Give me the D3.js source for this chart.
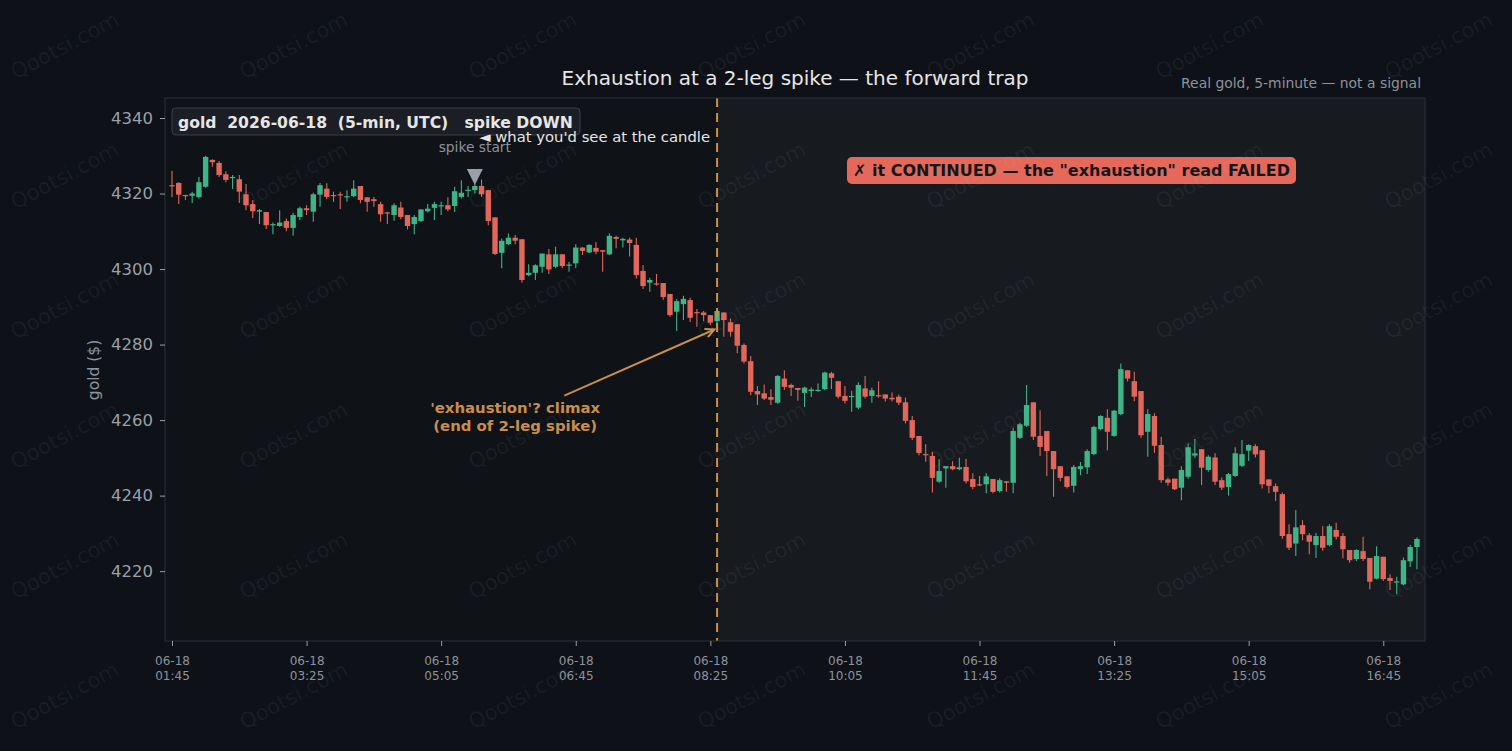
<!DOCTYPE html>
<html><head><meta charset="utf-8">
<script src="https://cdn.jsdelivr.net/npm/d3@7/dist/d3.min.js"></script>
<style>
html,body{margin:0;padding:0;background:#0e1117;}
svg{display:block;}
text{font-family:"DejaVu Sans",sans-serif;}
</style></head><body>
<svg id="c" width="1512" height="751"></svg>
<script>
// ---- data (gold, 5-min candles from 06-18 01:45 UTC) ----
const opens=[4322.2,4322.8,4319.6,4319.4,4319.05,4321.8,4328.9,4328.1,4325.1,4324.2,
4323.8,4319.8,4317.2,4315.2,4315.1,4311.8,4311.4,4312.7,4310.9,4313.8,
4316.1,4315.2,4319.7,4321.3,4319.6,4319.8,4319.0,4319.3,4322.0,4319.0,
4318.5,4317.2,4315.0,4314.3,4316.3,4314.3,4311.9,4312.7,4315.3,4316.2,
4316.8,4316.9,4316.7,4319.1,4320.8,4320.9,4322.0,4320.9,4313.7,4304.3,
4306.6,4308.3,4307.9,4298.4,4299.0,4300.6,4303.9,4300.6,4303.9,4301.0,
4301.5,4305.7,4304.4,4305.6,4305.0,4303.9,4308.5,4307.6,4307.8,4306.4,
4299.5,4296.4,4296.2,4296.3,4293.4,4288.7,4290.7,4291.8,4288.6,4288.5,
4287.8,4286.2,4288.5,4285.9,4285.4,4279.9,4275.6,4267.7,4267.1,4266.1,
4264.6,4271.0,4269.3,4268.5,4267.2,4267.7,4267.9,4268.2,4272.4,4270.3,
4266.4,4266.3,4263.3,4268.4,4266.4,4266.6,4266.8,4265.9,4266.2,4264.7,
4260.0,4255.8,4251.0,4250.5,4243.7,4247.2,4247.8,4247.0,4247.6,4244.4,
4243.0,4243.0,4244.4,4241.2,4243.8,4243.4,4255.3,4258.5,4264.7,4255.8,
4257.1,4251.8,4247.8,4245.1,4242.6,4247.0,4247.5,4251.0,4257.6,4260.6,
4255.8,4261.6,4273.2,4270.3,4267.7,4256.9,4261.1,4253.4,4244.3,4244.5,
4242.1,4245.0,4250.6,4252.3,4246.8,4250.1,4244.1,4242.3,4245.2,4247.9,
4251.9,4253.1,4252.0,4244.3,4242.5,4240.4,4229.8,4227.3,4232.2,4229.5,
4226.9,4229.3,4226.9,4230.9,4229.3,4225.6,4223.2,4225.3,4223.5,4218.0,
4223.8,4218.2,4217.1,4216.5,4222.6,4226.4];
const highs=[4326.0,4323.0,4319.7,4320.5,4324.4,4330.0,4329.1,4328.6,4325.9,4324.9,
4324.9,4322.5,4318.3,4315.9,4315.1,4312.3,4315.6,4313.4,4314.9,4316.5,
4316.9,4320.2,4322.8,4322.7,4320.5,4320.5,4320.9,4323.5,4322.0,4319.0,
4319.1,4317.8,4315.2,4317.4,4317.8,4314.3,4314.3,4315.8,4317.2,4317.8,
4317.8,4319.0,4321.8,4323.5,4322.0,4322.7,4323.7,4320.9,4313.7,4308.1,
4309.4,4309.0,4307.9,4301.3,4301.3,4304.1,4305.3,4305.9,4303.9,4301.9,
4306.6,4305.8,4306.6,4307.1,4305.0,4309.5,4308.8,4308.3,4308.3,4308.3,
4301.1,4297.7,4298.7,4296.3,4293.4,4292.1,4292.9,4292.4,4289.4,4288.9,
4287.8,4289.0,4288.5,4286.9,4285.4,4280.3,4277.0,4269.0,4269.4,4268.2,
4271.9,4273.2,4269.7,4268.5,4268.8,4268.7,4269.7,4272.8,4272.8,4270.3,
4269.0,4267.8,4270.0,4271.7,4268.6,4270.3,4266.8,4267.3,4266.8,4266.0,
4261.1,4255.8,4253.6,4251.6,4249.6,4247.8,4249.1,4250.0,4249.7,4245.9,
4245.2,4245.9,4244.4,4244.6,4243.8,4258.0,4259.3,4269.3,4264.7,4262.6,
4257.1,4251.8,4247.8,4245.1,4248.1,4248.9,4252.3,4258.5,4261.3,4262.9,
4262.7,4275.0,4273.2,4272.8,4267.7,4262.9,4261.8,4255.6,4244.7,4244.5,
4247.8,4253.8,4255.0,4252.3,4250.7,4251.2,4244.8,4246.0,4252.8,4254.7,
4253.6,4253.6,4252.0,4244.3,4243.2,4240.8,4232.4,4236.2,4233.5,4230.1,
4230.1,4231.9,4232.4,4232.8,4230.1,4225.6,4225.8,4229.1,4223.5,4226.6,
4223.8,4219.2,4218.5,4223.6,4226.9,4228.9];
const lows=[4319.1,4317.2,4318.3,4317.5,4318.7,4321.5,4327.1,4324.4,4323.0,4321.2,
4317.5,4315.6,4313.5,4311.9,4310.6,4309.2,4311.2,4310.0,4308.8,4313.0,
4314.3,4312.5,4316.5,4318.5,4317.8,4315.9,4317.8,4319.1,4317.4,4315.2,
4316.5,4312.5,4311.9,4312.8,4313.2,4310.5,4309.2,4312.5,4315.0,4313.0,
4314.3,4315.3,4315.1,4318.7,4319.1,4320.0,4319.1,4311.6,4303.7,4300.2,
4306.3,4306.6,4296.4,4298.1,4297.1,4299.0,4298.7,4300.2,4300.2,4299.3,
4300.2,4303.7,4304.2,4303.9,4299.3,4303.7,4305.5,4305.7,4303.3,4297.5,
4294.7,4294.0,4295.6,4291.8,4287.4,4283.6,4286.5,4286.0,4284.7,4286.2,
4285.2,4285.2,4282.1,4282.1,4277.7,4275.0,4266.6,4264.0,4265.3,4264.0,
4264.3,4268.0,4266.4,4265.1,4263.5,4266.1,4267.5,4267.9,4268.2,4265.7,
4264.4,4262.2,4262.9,4265.7,4264.6,4265.9,4264.9,4264.9,4264.0,4259.1,
4254.7,4250.7,4249.0,4240.8,4243.4,4242.1,4246.7,4246.7,4243.2,4241.7,
4242.5,4240.6,4240.6,4240.8,4241.0,4240.6,4255.0,4258.2,4254.7,4250.5,
4245.2,4239.7,4243.8,4241.9,4240.8,4245.4,4245.7,4250.7,4257.3,4252.0,
4255.6,4261.3,4270.2,4265.0,4255.3,4250.3,4251.3,4243.4,4242.6,4241.5,
4238.8,4244.5,4250.0,4242.8,4246.3,4242.8,4241.5,4240.0,4245.0,4247.6,
4249.2,4250.1,4241.9,4240.6,4238.6,4228.6,4225.6,4224.0,4228.2,4224.5,
4223.5,4225.4,4226.6,4228.4,4223.4,4222.2,4222.7,4222.7,4215.2,4217.8,
4217.4,4215.0,4213.9,4216.3,4221.1,4220.5];
const closes=[4322.0,4319.7,4319.4,4320.0,4323.0,4329.7,4328.3,4324.9,4323.6,4324.4,
4320.5,4316.9,4315.3,4315.6,4311.6,4311.9,4312.3,4310.9,4314.3,4316.1,
4315.6,4319.8,4322.2,4319.1,4319.4,4319.6,4319.3,4321.3,4318.3,4317.8,
4318.0,4314.5,4314.7,4316.9,4313.8,4311.4,4313.8,4315.8,4316.0,4317.2,
4316.9,4315.8,4320.6,4320.2,4321.0,4322.0,4319.8,4312.7,4304.0,4307.5,
4308.3,4307.5,4297.1,4299.0,4301.0,4304.1,4299.9,4303.9,4300.8,4301.2,
4305.7,4304.8,4306.4,4304.6,4304.6,4308.8,4308.0,4308.0,4306.9,4298.4,
4295.5,4297.1,4296.0,4292.6,4287.8,4291.5,4292.1,4287.1,4288.4,4287.8,
4285.8,4288.9,4286.5,4283.4,4279.7,4275.5,4267.5,4266.8,4265.7,4265.4,
4271.7,4268.8,4268.6,4268.0,4268.6,4268.1,4268.0,4272.6,4271.2,4266.2,
4265.1,4266.4,4269.3,4266.2,4267.9,4266.5,4265.7,4265.5,4264.6,4259.8,
4255.3,4251.3,4250.8,4244.7,4246.5,4247.8,4247.0,4247.5,4243.8,4242.3,
4242.8,4245.1,4241.0,4244.1,4243.4,4257.1,4258.9,4264.0,4255.6,4252.9,
4251.8,4247.0,4244.7,4242.3,4247.6,4247.8,4251.8,4258.2,4261.1,4256.9,
4262.5,4273.5,4271.0,4266.2,4256.0,4261.6,4253.2,4244.1,4243.4,4241.7,
4246.8,4252.8,4251.2,4247.4,4250.3,4243.7,4242.1,4245.7,4251.2,4251.0,
4253.4,4250.9,4243.0,4242.6,4241.0,4229.3,4226.2,4231.6,4229.8,4227.8,
4229.3,4226.2,4231.9,4229.1,4225.8,4222.9,4225.6,4223.2,4217.2,4224.0,
4217.9,4217.4,4217.3,4222.9,4226.4,4228.5];

const xTickIdx=[0,20,40,60,80,100,120,140,160,180];
const xTickDates=["06-18","06-18","06-18","06-18","06-18","06-18","06-18","06-18","06-18","06-18"];
const xTickTimes=["01:45","03:25","05:05","06:45","08:25","10:05","11:45","13:25","15:05","16:45"];
const yTicks=[4220,4240,4260,4280,4300,4320,4340];

const spikeStartIdx=45, spikeStartPrice=4324.4;
const climaxIdx=81;
const arrowTip=[80.6,4284.0], arrowTail=[58.3,4266.5];
const climaxLabelPos=[51,4261.9];

// ---- layout ----
const W=1512,H=751;
const L=165,R=1425,T=98,B=641;
const C={bg:"#0e1117",plot:"#0f1216",future:"#171a1f",frame:"#2c3037",
  up:"#3fb487",down:"#e0675a",txt:"#e6e6e6",mut:"#8d939c",tick:"#9aa0a8",
  orange:"#d18f3f",ann:"#c98d4e"};

const svg=d3.select("#c");
svg.append("rect").attr("width",W).attr("height",H).attr("fill",C.bg);

const x=d3.scaleLinear().domain([-1.04,186.2]).range([L,R]);
const y=d3.scaleLinear().domain([4201.5,4345.3]).range([B,T]);

svg.append("rect").attr("x",L).attr("y",T).attr("width",R-L).attr("height",B-T).attr("fill",C.plot);
svg.append("rect").attr("x",x(climaxIdx)).attr("y",T).attr("width",R-x(climaxIdx)).attr("height",B-T).attr("fill",C.future);

// candles
const data=opens.map((o,i)=>({i,o,h:highs[i],l:lows[i],c:closes[i]}));
const g=svg.append("g");
g.selectAll("line.w").data(data).join("line")
  .attr("x1",d=>x(d.i)).attr("x2",d=>x(d.i))
  .attr("y1",d=>y(d.h)).attr("y2",d=>y(d.l))
  .attr("stroke",d=>d.c>=d.o?C.up:C.down).attr("stroke-width",1.1);
g.selectAll("rect.b").data(data).join("rect")
  .attr("x",d=>x(d.i)-2.7).attr("width",5.4)
  .attr("y",d=>y(Math.max(d.o,d.c)))
  .attr("height",d=>Math.max(1.2,Math.abs(y(d.o)-y(d.c))))
  .attr("fill",d=>d.c>=d.o?C.up:C.down);

// dashed climax line
svg.append("line").attr("x1",x(climaxIdx)).attr("x2",x(climaxIdx)).attr("y1",T).attr("y2",B)
  .attr("stroke",C.orange).attr("stroke-width",2).attr("stroke-dasharray","9,6");

// frame
svg.append("rect").attr("x",L).attr("y",T).attr("width",R-L).attr("height",B-T)
  .attr("fill","none").attr("stroke",C.frame).attr("stroke-width",1);

// axes
const ya=svg.append("g").attr("transform",`translate(${L},0)`)
  .call(d3.axisLeft(y).tickValues(yTicks).tickSize(5).tickPadding(7).tickFormat(d3.format("d")));
ya.select(".domain").remove();
ya.selectAll(".tick line").attr("stroke",C.tick);
ya.selectAll(".tick text").attr("fill",C.tick).style("font-size","16.5px").style("font-family","DejaVu Sans");

const xa=svg.append("g").attr("transform",`translate(0,${B})`)
  .call(d3.axisBottom(x).tickValues(xTickIdx).tickSize(5).tickFormat(""));
xa.select(".domain").remove();
xa.selectAll(".tick line").attr("stroke",C.tick);
xa.selectAll(".tick").each(function(d,k){
  const t=d3.select(this).append("text").attr("fill",C.mut).attr("text-anchor","middle")
    .style("font-size","12px");
  t.append("tspan").attr("x",0).attr("y",24).text(xTickDates[k]);
  t.append("tspan").attr("x",0).attr("y",39).text(xTickTimes[k]);
});

// y label
svg.append("text").attr("transform","translate(99,370) rotate(-90)").attr("text-anchor","middle")
  .attr("fill",C.mut).style("font-size","15.5px").text("gold ($)");

// title
svg.append("text").attr("x",795).attr("y",85).attr("text-anchor","middle").attr("fill",C.txt)
  .style("font-size","20px").text("Exhaustion at a 2-leg spike — the forward trap");
svg.append("text").attr("x",1421).attr("y",88).attr("text-anchor","end").attr("fill",C.mut)
  .style("font-size","13.9px").text("Real gold, 5-minute — not a signal");

// info box
svg.append("rect").attr("x",172).attr("y",108).attr("width",408).attr("height",27).attr("rx",4)
  .attr("fill","#1b1e24").attr("stroke","#3a3e46").attr("stroke-width",1);
svg.append("text").attr("x",178).attr("y",127.5).attr("fill",C.txt).attr("xml:space","preserve")
  .style("white-space","pre").style("font-size","15.6px").style("font-weight","bold")
  .text("gold  2026-06-18  (5-min, UTC)   spike DOWN");

svg.append("text").attr("x",710).attr("y",142).attr("text-anchor","end").attr("fill",C.txt)
  .style("font-size","14.8px").text("◄ what you'd see at the candle");

// spike start marker
const sx=x(spikeStartIdx), sy=y(spikeStartPrice);
svg.append("path").attr("d",`M${sx-8},${sy-8} L${sx+8},${sy-8} L${sx},${sy+8} Z`).attr("fill",C.tick);
svg.append("text").attr("x",sx).attr("y",sy-25).attr("text-anchor","middle").attr("fill",C.mut)
  .style("font-size","13.8px").text("spike start");

// failed callout
const fx=847, fy=157;
svg.append("rect").attr("x",fx).attr("y",fy).attr("width",449).attr("height",27).attr("rx",5).attr("fill","#e5695b");
svg.append("text").attr("x",fx+6).attr("y",fy+19).attr("fill","#15161a")
  .style("font-size","16px").style("font-weight","bold")
  .text("✗ it CONTINUED — the \"exhaustion\" read FAILED");

// climax annotation
const ax1=x(arrowTail[0]), ay1=y(arrowTail[1]), ax2=x(arrowTip[0]), ay2=y(arrowTip[1]);
svg.append("line").attr("x1",ax1).attr("y1",ay1).attr("x2",ax2).attr("y2",ay2)
  .attr("stroke",C.ann).attr("stroke-width",2);
const ang=Math.atan2(ay2-ay1,ax2-ax1), hl=10;
svg.append("path").attr("d",`M${ax2-hl*Math.cos(ang-0.45)},${ay2-hl*Math.sin(ang-0.45)} L${ax2},${ay2} L${ax2-hl*Math.cos(ang+0.45)},${ay2-hl*Math.sin(ang+0.45)}`)
  .attr("fill","none").attr("stroke",C.ann).attr("stroke-width",2);
const ct=svg.append("text").attr("text-anchor","middle").attr("fill",C.ann)
  .style("font-size","14.9px").style("font-weight","bold");
ct.append("tspan").attr("x",x(climaxLabelPos[0])).attr("y",y(climaxLabelPos[1])).text("'exhaustion'? climax");
ct.append("tspan").attr("x",x(climaxLabelPos[0])).attr("dy",18).text("(end of 2-leg spike)");

// watermarks
const wm=svg.append("g").attr("pointer-events","none");
for(let r=0;r<6;r++)for(let c=0;c<7;c++){
  wm.append("text").attr("transform",`translate(${68+229*c},${52+130*r}) rotate(-28)`)
    .attr("text-anchor","middle").attr("fill","rgba(200,205,215,0.07)")
    .style("font-size","21px").text("Qootsi.com");
}
</script>
</body></html>
